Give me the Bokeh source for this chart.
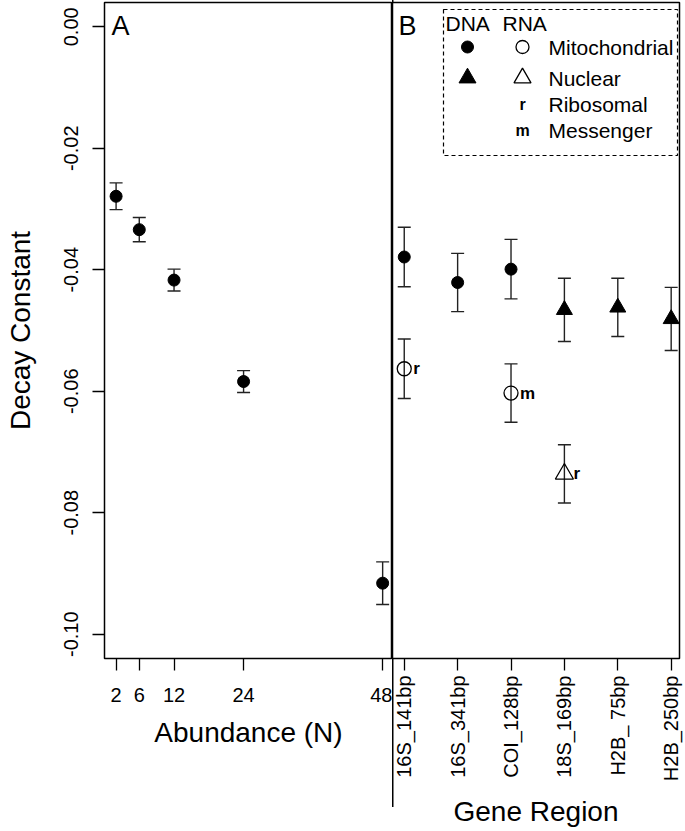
import math
from bokeh.plotting import figure
from bokeh.layouts import row
from bokeh.models import (Range1d, FixedTicker, Whisker, TeeHead, ColumnDataSource,
                          Label, BoxAnnotation, PrintfTickFormatter)
from bokeh.core.properties import value
from bokeh.embed import file_html
from bokeh.resources import INLINE

FONT = "Liberation Sans"

# ---- Panel A data ----
abundance = [2, 6, 12, 24, 48]
abund_k = [-0.0279, -0.0334, -0.0417, -0.0584, -0.0916]
abund_err = [0.0022, 0.0020, 0.0018, 0.0018, 0.0035]
abund_ticks = [2, 6, 12, 24, 48]
y_ticks = [0.0, -0.02, -0.04, -0.06, -0.08, -0.10]

# ---- Panel B data ----
genes = ["16S_141bp", "16S_341bp", "COI_128bp", "18S_169bp", "H2B_ 75bp", "H2B_250bp"]
dna_k = [-0.0379, -0.0421, -0.0399, -0.0466, -0.0462, -0.0481]
dna_err = [0.0049, 0.0048, 0.0049, 0.0052, 0.0048, 0.0052]
dna_type = ["Mitochondrial", "Mitochondrial", "Mitochondrial", "Nuclear", "Nuclear", "Nuclear"]

rna_gene = ["16S_141bp", "COI_128bp", "18S_169bp"]
rna_k = [-0.0563, -0.0603, -0.0736]
rna_err = [0.0049, 0.0048, 0.0048]
rna_type = ["Mitochondrial", "Mitochondrial", "Nuclear"]
rna_class = ["r", "m", "r"]

legend_rows = ["Mitochondrial", "Nuclear", "Ribosomal", "Messenger"]

# ---- layout ----
Y0, Y1 = -0.104, 0.004
X1 = (0.0, 49.7)
X2 = (0.78, 6.156)
H = 831
TOP = 2
FRAME_H = 656
BOTTOM = H - FRAME_H - TOP
W1_FRAME = 288
W2_FRAME = 287
RIGHT2 = 6
LEFT1 = 104

def style_axes(p):
    p.grid.visible = False
    p.outline_line_color = "black"
    p.outline_line_width = 1.5
    for ax in p.axis:
        ax.axis_line_color = None
        ax.major_tick_out = 12
        ax.major_tick_in = 0
        ax.minor_tick_line_color = None
        ax.major_tick_line_width = 1.3
        ax.major_tick_line_color = "black"
        ax.major_label_text_font = FONT
        ax.major_label_text_font_size = "20px"
        ax.major_label_text_color = "black"
        ax.axis_label_text_font = FONT
        ax.axis_label_text_font_size = "28px"
        ax.axis_label_text_font_style = "normal"
        ax.axis_label_text_color = "black"

# ---------------- Panel A ----------------
p1 = figure(width=LEFT1 + W1_FRAME, height=H, x_range=Range1d(*X1), y_range=Range1d(Y0, Y1),
            output_backend="svg", toolbar_location=None,
            min_border_left=LEFT1, min_border_right=0, min_border_top=TOP, min_border_bottom=BOTTOM)
style_axes(p1)
p1.xaxis.ticker = FixedTicker(ticks=abund_ticks)
p1.xaxis.major_label_standoff = 17
p1.xaxis.axis_label = "Abundance (N)"
p1.xaxis.axis_label_standoff = 12
p1.yaxis.ticker = FixedTicker(ticks=y_ticks)
p1.yaxis.formatter = PrintfTickFormatter(format="%.2f")
p1.yaxis.major_label_orientation = "vertical"
p1.yaxis.major_label_standoff = 14
p1.yaxis.axis_label = "Decay Constant"
p1.yaxis.axis_label_standoff = 26

srcA = ColumnDataSource(dict(x=abundance, y=abund_k,
                             lo=[k - e for k, e in zip(abund_k, abund_err)],
                             hi=[k + e for k, e in zip(abund_k, abund_err)]))

def whisk(src):
    return Whisker(source=src, base="x", upper="hi", lower="lo", dimension="height",
                   line_color="#222222", line_width=1.4,
                   upper_head=TeeHead(size=13, line_color="#222222", line_width=1.4),
                   lower_head=TeeHead(size=13, line_color="#222222", line_width=1.4))

p1.add_layout(whisk(srcA))
p1.scatter("x", "y", source=srcA, marker="circle", size=12, fill_color="black", line_color="black")

p1.add_layout(Label(x=7, y=FRAME_H - 8, x_units="screen", y_units="screen", text="A",
                    text_font=FONT, text_font_size="27px", text_baseline="top",
                    text_color="black"))

# ---------------- Panel B ----------------
p2 = figure(width=W2_FRAME + RIGHT2, height=H, x_range=Range1d(*X2), y_range=Range1d(Y0, Y1),
            output_backend="svg", toolbar_location=None, y_axis_location=None,
            min_border_left=0, min_border_right=RIGHT2, min_border_top=TOP, min_border_bottom=BOTTOM)
style_axes(p2)
# transparent border so the divider line (drawn as the element's background) shows below the frame
p2.border_fill_color = None
p2.styles = {"background-image": "linear-gradient(#000, #000)",
             "background-repeat": "no-repeat",
             "background-size": "1.5px 807px",
             "background-position": "0px 0px"}
xpos = list(range(1, len(genes) + 1))
gpos = dict(zip(genes, xpos))
p2.xaxis.ticker = FixedTicker(ticks=xpos)
p2.xaxis.major_label_overrides = {i: g for i, g in zip(xpos, genes)}
p2.xaxis.major_label_orientation = math.pi / 2
p2.xaxis.major_label_standoff = 5
p2.xaxis.axis_label = "Gene Region"
p2.xaxis.axis_label_standoff = 12

srcD = ColumnDataSource(dict(x=xpos, y=dna_k, t=dna_type,
                             lo=[k - e for k, e in zip(dna_k, dna_err)],
                             hi=[k + e for k, e in zip(dna_k, dna_err)]))
rx = [gpos[g] for g in rna_gene]
srcR = ColumnDataSource(dict(x=rx, y=rna_k, t=rna_type, c=rna_class,
                             lo=[k - e for k, e in zip(rna_k, rna_err)],
                             hi=[k + e for k, e in zip(rna_k, rna_err)]))
p2.add_layout(whisk(srcD))
p2.add_layout(whisk(srcR))

marker_of = {"Mitochondrial": "circle", "Nuclear": "triangle"}
for kind in ["Mitochondrial", "Nuclear"]:
    idx = [i for i, t in enumerate(dna_type) if t == kind]
    p2.scatter([xpos[i] for i in idx], [dna_k[i] for i in idx], marker=marker_of[kind],
               size=12 if kind == "Mitochondrial" else 16, fill_color="black", line_color="black")
    idr = [i for i, t in enumerate(rna_type) if t == kind]
    p2.scatter([rx[i] for i in idr], [rna_k[i] for i in idr], marker=marker_of[kind],
               size=14 if kind == "Mitochondrial" else 18, fill_color=None, line_color="black",
               line_width=1.3)
p2.text("x", "y", text="c", source=srcR, x_offset=9, text_align="left", text_baseline="middle",
        text_font=value(FONT), text_font_size="17px", text_font_style="bold", text_color="black")

p2.add_layout(Label(x=6, y=FRAME_H - 8, x_units="screen", y_units="screen", text="B",
                    text_font=FONT, text_font_size="27px", text_baseline="top",
                    text_color="black"))

# ---- manual legend (positions given in frame pixels) ----
ppx = W2_FRAME / (X2[1] - X2[0])
ppy = FRAME_H / (Y1 - Y0)
def lx(px):
    return X2[0] + px / ppx
def ly(py):
    return Y1 - py / ppy

p2.add_layout(BoxAnnotation(left=lx(51), right=lx(285), top=ly(7), bottom=ly(153),
                            fill_color=None, line_color="black", line_alpha=1.0, line_width=1.2,
                            line_dash="4 3"))
row_y = [44.5, 75.5, 101.5, 128]
hdr = dict(text_font=value(FONT), text_font_size="21px", text_baseline="middle",
           text_align="left", text_color="black")
p2.text([lx(53), lx(110)], [ly(21), ly(21)], text=["DNA", "RNA"], **hdr)
p2.text([lx(156)] * 4, [ly(v) for v in row_y], text=legend_rows, **hdr)
p2.scatter([lx(75)], [ly(row_y[0])], marker="circle", size=12, fill_color="black", line_color="black")
p2.scatter([lx(130)], [ly(row_y[0])], marker="circle", size=13, fill_color=None, line_color="black", line_width=1.3)
p2.scatter([lx(75)], [ly(row_y[1])], marker="triangle", size=17, fill_color="black", line_color="black")
p2.scatter([lx(130)], [ly(row_y[1])], marker="triangle", size=17, fill_color=None, line_color="black", line_width=1.3)
p2.text([lx(130), lx(130)], [ly(row_y[2]), ly(row_y[3])], text=["r", "m"],
        text_font=value(FONT), text_font_size="16px", text_font_style="bold",
        text_align="center", text_baseline="middle", text_color="black")

layout = row(p1, p2)
open("out.html", "w").write(file_html(layout, INLINE))
